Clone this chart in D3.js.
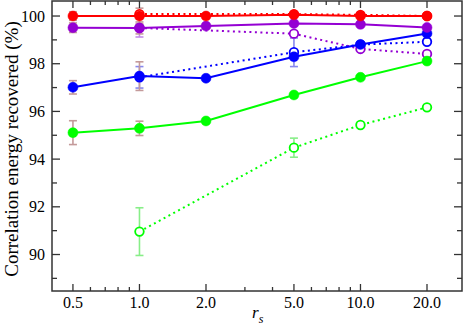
<!DOCTYPE html>
<html>
<head>
<meta charset="utf-8">
<script src="https://cdn.jsdelivr.net/npm/d3@7"></script>
<style>
  body { margin: 0; background: #fff; }
</style>
</head>
<body>
<svg class="chart" width="467" height="329"></svg>
<script>
// x positions (r_s)
const rsFull = [0.5, 1.0, 2.0, 5.0, 10.0, 20.0];
const rsOpen = [1.0, 5.0, 10.0, 20.0];

// filled symbols, solid lines
const redSolid    = [100.0, 100.0, 100.0, 100.05, 100.0, 100.0];
const purpleSolid = [99.51, 99.5, 99.58, 99.69, 99.65, 99.52];
const blueSolid   = [97.01, 97.48, 97.39, 98.29, 98.81, 99.27];
const greenSolid  = [95.11, 95.29, 95.6, 96.69, 97.43, 98.11];

// open symbols, dotted lines
const redDotted    = [100.08, 100.08, 100.05, 100.0];
const purpleDotted = [99.5, 99.26, 98.62, 98.41];
const blueDotted   = [97.43, 98.48, 98.8, 98.92];
const greenDotted  = [90.96, 94.48, 95.43, 96.17];

// error bars (null = none drawn)
const redSolidErr    = [0.18, 0.33, null, null, null, null];
const purpleSolidErr = [0.2, 0.25, null, null, null, null];
const blueSolidErr   = [0.28, 0.6, null, null, null, null];
const greenSolidErr  = [0.5, 0.3, null, null, null, null];
const purpleDottedErr = [0.38, null, null, null];
const blueDottedErr   = [0.45, 0.6, null, null];
const greenDottedErr  = [1.0, 0.4, null, null];

const xMajor = [0.5, 1.0, 2.0, 5.0, 10.0, 20.0];
const xMinor = [0.6, 0.7, 0.8, 0.9, 3, 4, 6, 7, 8, 9];
const yMajor = [90, 92, 94, 96, 98, 100];
const yMinor = [89, 91, 93, 95, 97, 99];

const W = 467, H = 329;
const margin = {left: 52, right: 5, top: 1, bottom: 38};
const FONT = "Liberation Serif";

const svg = d3.select("svg.chart");

const x = d3.scaleLog()
    .domain([0.402, 28.8])
    .range([margin.left, W - margin.right]);
const y = d3.scaleLinear()
    .domain([88.47, 100.63])
    .range([H - margin.bottom, margin.top]);

const x0 = x.range()[0], x1 = x.range()[1];
const y0 = y.range()[0], y1 = y.range()[1];

const series = [
    {xs: rsOpen, ys: greenDotted, err: greenDottedErr, color: "#00ff00", errColor: "#88ee88", open: true},
    {xs: rsOpen, ys: blueDotted, err: blueDottedErr, color: "#0000ff", errColor: "#8888ee", open: true},
    {xs: rsOpen, ys: purpleDotted, err: purpleDottedErr, color: "#9400d3", errColor: "#c48ce8", open: true},
    {xs: rsOpen, ys: redDotted, err: null, color: "#ff0000", errColor: "#ff9999", open: true},
    {xs: rsFull, ys: greenSolid, err: greenSolidErr, color: "#00ff00", errColor: "#c49a9a", open: false},
    {xs: rsFull, ys: blueSolid, err: blueSolidErr, color: "#0000ff", errColor: "#c49a9a", open: false},
    {xs: rsFull, ys: purpleSolid, err: purpleSolidErr, color: "#9400d3", errColor: "#c49a9a", open: false},
    {xs: rsFull, ys: redSolid, err: redSolidErr, color: "#ff0000", errColor: "#c49a9a", open: false},
];

const line = d3.line()
    .x(d => x(d[0]))
    .y(d => y(d[1]));

// error bars first, underneath everything
const errLayer = svg.append("g").attr("class", "errors");
series.forEach(function(s) {
    if (!s.err) return;
    s.xs.forEach(function(xv, i) {
        const e = s.err[i];
        if (e == null) return;
        const cx = x(xv);
        const yt = y(s.ys[i] + e), yb = y(s.ys[i] - e);
        const g = errLayer.append("g")
            .attr("stroke", s.errColor)
            .attr("stroke-width", 1.6);
        g.append("line").attr("x1", cx).attr("x2", cx).attr("y1", yt).attr("y2", yb);
        g.append("line").attr("x1", cx - 4).attr("x2", cx + 4).attr("y1", yt).attr("y2", yt);
        g.append("line").attr("x1", cx - 4).attr("x2", cx + 4).attr("y1", yb).attr("y2", yb);
    });
});

// lines and symbols
series.forEach(function(s) {
    const pts = s.xs.map((xv, i) => [xv, s.ys[i]]);
    const g = svg.append("g");
    g.append("path")
        .datum(pts)
        .attr("d", line)
        .attr("fill", "none")
        .attr("stroke", s.color)
        .attr("stroke-width", 2)
        .attr("stroke-dasharray", s.open ? "2,3.5" : null);
    g.selectAll("circle")
        .data(pts)
        .enter().append("circle")
            .attr("cx", d => x(d[0]))
            .attr("cy", d => y(d[1]))
            .attr("r", s.open ? 4.3 : 5)
            .attr("fill", s.open ? "#fff" : s.color)
            .attr("stroke", s.color)
            .attr("stroke-width", s.open ? 1.8 : 0.5);
});

// frame
svg.append("rect")
    .attr("x", x0).attr("y", y1)
    .attr("width", x1 - x0).attr("height", y0 - y1)
    .attr("fill", "none")
    .attr("stroke", "#333")
    .attr("stroke-width", 1.5);

// ticks, drawn inward on all four sides
const ticks = svg.append("g").attr("stroke", "#333").attr("stroke-width", 1.3);
xMajor.concat(xMinor).forEach(function(v) {
    const len = xMajor.includes(v) ? 7 : 4;
    ticks.append("line").attr("x1", x(v)).attr("x2", x(v)).attr("y1", y0).attr("y2", y0 - len);
    ticks.append("line").attr("x1", x(v)).attr("x2", x(v)).attr("y1", y1).attr("y2", y1 + len);
});
yMajor.concat(yMinor).forEach(function(v) {
    const len = yMajor.includes(v) ? 8 : 5;
    ticks.append("line").attr("x1", x0).attr("x2", x0 + len).attr("y1", y(v)).attr("y2", y(v));
    ticks.append("line").attr("x1", x1).attr("x2", x1 - len).attr("y1", y(v)).attr("y2", y(v));
});

// tick labels
svg.append("g").selectAll("text")
    .data(xMajor)
    .enter().append("text")
        .style("font-family", FONT)
        .attr("x", d => x(d))
        .attr("y", 308)
        .attr("text-anchor", "middle")
        .attr("font-size", 16)
        .text(d => d.toFixed(1));

svg.append("g").selectAll("text")
    .data(yMajor)
    .enter().append("text")
        .style("font-family", FONT)
        .attr("x", 45)
        .attr("y", d => y(d) + 5.5)
        .attr("text-anchor", "end")
        .attr("font-size", 16)
        .text(d => d);

// axis titles
const xt = svg.append("text")
    .style("font-family", FONT)
    .attr("x", 252)
    .attr("y", 318)
    .attr("font-size", 17)
    .attr("font-style", "italic");
xt.append("tspan").text("r");
xt.append("tspan").attr("font-size", 12).attr("dy", 5).text("s");

svg.append("text")
    .style("font-family", FONT)
    .attr("transform", "translate(18,149) rotate(-90)")
    .attr("text-anchor", "middle")
    .attr("font-size", 19)
    .text("Correlation energy recovered (%)");
</script>
</body>
</html>
